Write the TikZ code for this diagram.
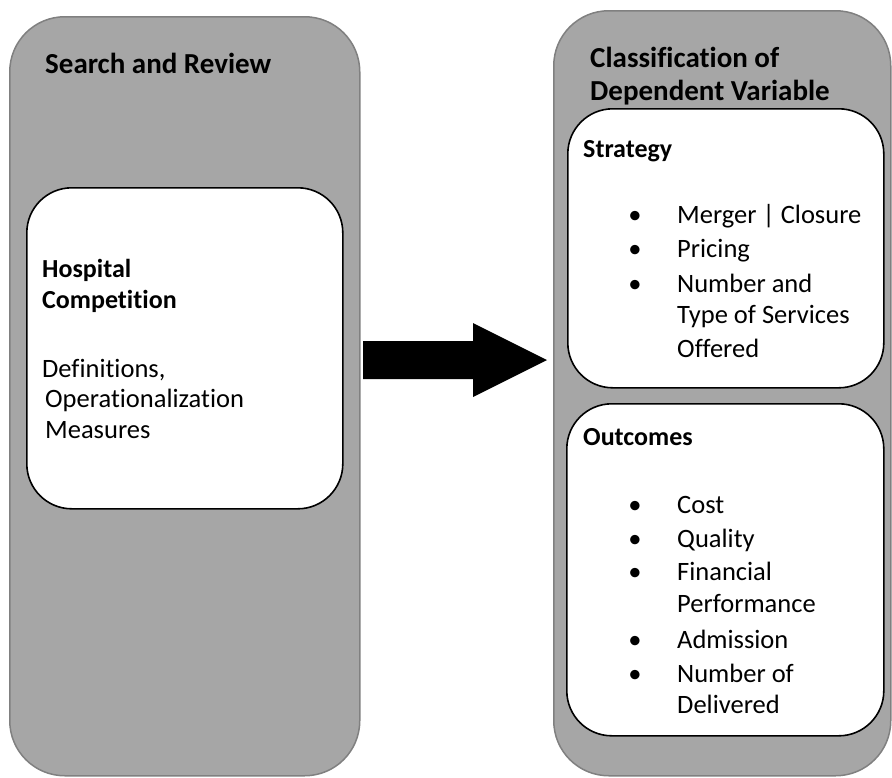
\documentclass[tikz,border=0pt]{standalone}
\usepackage{fontspec}
\setmainfont[Ligatures=NoCommon]{Carlito}
\begin{document}
\begin{tikzpicture}[x=1pt,y=-1pt,
  greybox/.style={draw=black!50,line width=1.5pt,fill=black!35,rounded corners=55pt,anchor=north west,inner sep=0pt},
  whitebox/.style={draw=black,line width=1.6pt,fill=white,rounded corners=45pt,anchor=north west,inner sep=0pt},
  title/.style={anchor=base west,inner sep=0pt,font=\fontsize{29}{33}\selectfont\bfseries},
  head/.style={anchor=base west,inner sep=0pt,font=\fontsize{26}{31}\selectfont\bfseries},
  body/.style={anchor=base west,inner sep=0pt,font=\fontsize{26.5}{31}\selectfont},
  bul/.style={anchor=base,inner sep=0pt,font=\fontsize{26.5}{31}\selectfont}]
\useasboundingbox (0,0) rectangle (892,777);
% grey panels
\node[greybox,minimum width=350pt,minimum height=759pt] (left) at (9,16) {};
\node[greybox,minimum width=337pt,minimum height=765pt] (right) at (553,10) {};
% white boxes
\node[whitebox,minimum width=316pt,minimum height=321pt] (hc) at (26,187) {};
\node[whitebox,minimum width=316pt,minimum height=279pt] (st) at (567,108) {};
\node[whitebox,minimum width=317pt,minimum height=332pt] (oc) at (566,403) {};
% arrow
\fill[black] (363,341) -- (473,341) -- (473,323) -- (547,360) -- (473,397) -- (473,379) -- (363,379) -- cycle;
% texts left
\node[title] (t1) at (45,73) {Search and Review};
\node[head] (h1) at (42,277) {Hospital};
\node[head] (h2) at (42,308) {Competition};
\node[body] (b1) at (42,377) {Definitions,};
\node[body] (b2) at (45,407) {Operationalization};
\node[body] (b3) at (45,438) {Measures};
% texts right
\node[title] (t2) at (590,67) {Classification of};
\node[title] (t3) at (590,100) {Dependent Variable};
\node[head] (s0) at (583,157) {Strategy};
\node[bul] (sb1) at (635,223) {•};
\node[body] (s1) at (677,223) {Merger | Closure};
\node[bul] (sb2) at (635,257) {•};
\node[body] (s2) at (677,257) {Pricing};
\node[bul] (sb3) at (635,292) {•};
\node[body] (s3) at (677,292) {Number and};
\node[body] (s4) at (677,323) {Type of Services};
\node[body] (s5) at (677,357) {Offered};
\node[head] (o0) at (583,445) {Outcomes};
\node[bul] (ob1) at (635,513) {•};
\node[body] (o1) at (677,513) {Cost};
\node[bul] (ob2) at (635,547) {•};
\node[body] (o2) at (677,547) {Quality};
\node[bul] (ob3) at (635,580) {•};
\node[body] (o3) at (677,580) {Financial};
\node[body] (o4) at (677,612) {Performance};
\node[bul] (ob4) at (635,648) {•};
\node[body] (o5) at (677,648) {Admission};
\node[bul] (ob5) at (635,682) {•};
\node[body] (o6) at (677,682) {Number of};
\node[body] (o7) at (677,713) {Delivered};
\end{tikzpicture}
\end{document}
